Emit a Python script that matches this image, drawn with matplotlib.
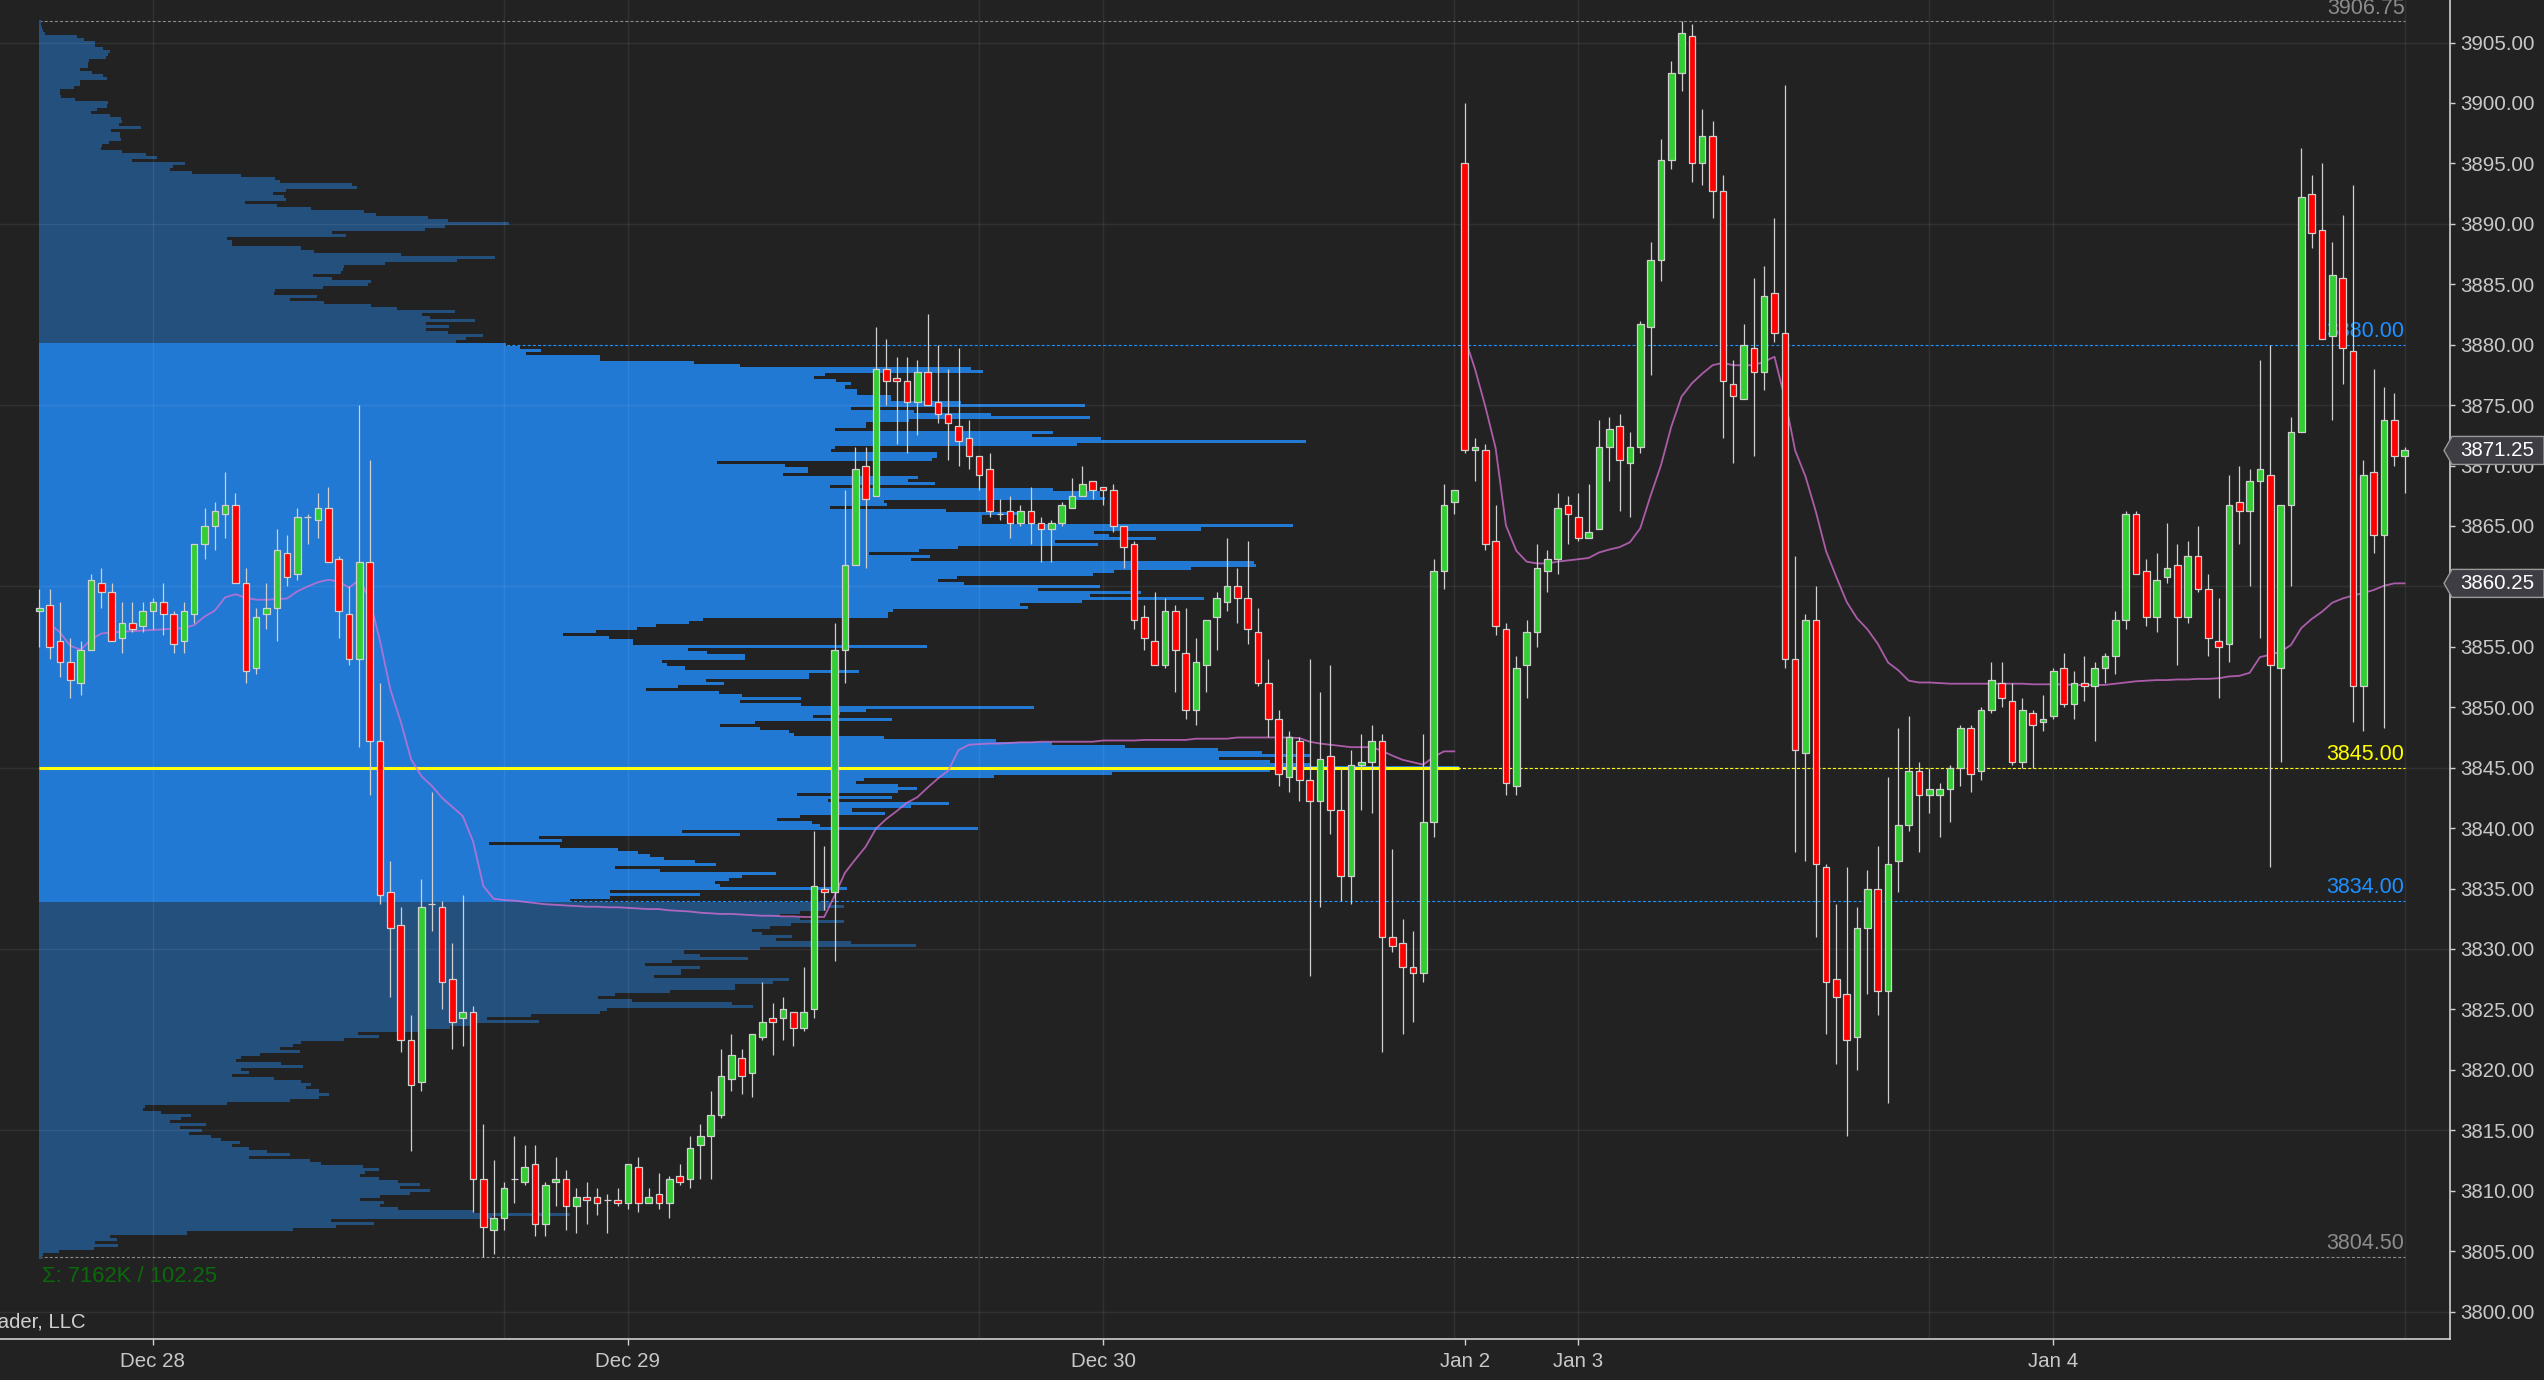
# ES 30-min chart with a volume profile, recreated with matplotlib
import numpy as np
import matplotlib
matplotlib.use("Agg")
import matplotlib.pyplot as plt
from matplotlib.patches import Polygon
from matplotlib.transforms import blended_transform_factory

plt.rcParams['font.family'] = ['Liberation Sans', 'DejaVu Sans']
plt.rcParams['lines.scale_dashes'] = False

# ---- candles (30 min bars, index 0..229) ----
opens = [3858.0, 3858.5, 3855.5, 3853.75, 3852.0, 3854.75, 3860.25, 3859.5, 3855.75, 3857.0,
         3856.75, 3858.0, 3858.75, 3857.75, 3855.5, 3857.75, 3863.5, 3865.0, 3866.0, 3866.75,
         3860.25, 3853.25, 3857.75, 3858.25, 3862.75, 3861.0, 3865.75, 3865.5, 3866.5, 3862.25,
         3857.75, 3854.0, 3862.0, 3847.25, 3834.75, 3832.0, 3822.5, 3819.0, 3833.75, 3833.5,
         3827.5, 3824.25, 3824.75, 3811.0, 3806.75, 3807.75, 3811.0, 3810.75, 3812.25, 3807.25,
         3810.75, 3811.0, 3808.75, 3809.5, 3809.5, 3809.25, 3809.25, 3809.0, 3812.0, 3809.0,
         3809.75, 3809.0, 3811.25, 3811.0, 3813.75, 3814.5, 3816.25, 3819.25, 3821.0, 3819.75,
         3822.75, 3824.25, 3824.25, 3824.75, 3823.5, 3825.0, 3835.0, 3834.75, 3854.75, 3861.75,
         3870.0, 3867.5, 3878.0, 3877.25, 3877.0, 3875.25, 3877.75, 3875.25, 3874.25, 3873.25,
         3872.25, 3870.75, 3869.75, 3866.0, 3866.25, 3865.25, 3866.25, 3865.25, 3864.75, 3865.25,
         3866.5, 3867.5, 3868.75, 3868.25, 3868.0, 3865.0, 3863.5, 3857.5, 3855.5, 3853.5,
         3858.0, 3854.5, 3849.75, 3853.5, 3857.5, 3858.75, 3860.0, 3859.0, 3856.25, 3852.0,
         3849.0, 3844.25, 3847.25, 3844.0, 3842.25, 3846.0, 3841.5, 3836.0, 3845.25, 3845.5,
         3847.25, 3831.0, 3830.5, 3828.5, 3828.0, 3840.5, 3861.25, 3867.0, 3895.0, 3871.25,
         3871.25, 3863.75, 3856.5, 3843.5, 3853.5, 3856.25, 3861.25, 3862.25, 3866.75, 3865.75,
         3864.0, 3864.75, 3871.5, 3873.25, 3870.25, 3871.5, 3881.5, 3887.0, 3895.25, 3902.5,
         3905.5, 3895.0, 3897.25, 3892.75, 3876.75, 3875.5, 3879.75, 3877.75, 3884.25, 3881.0,
         3854.0, 3846.25, 3857.25, 3836.75, 3827.5, 3826.25, 3822.75, 3831.75, 3835.0, 3826.5,
         3837.25, 3840.25, 3844.75, 3842.75, 3842.75, 3843.25, 3845.0, 3848.25, 3844.75, 3849.75,
         3852.0, 3850.5, 3845.5, 3849.5, 3848.75, 3849.25, 3853.25, 3850.25, 3852.0, 3851.75,
         3853.25, 3854.25, 3857.25, 3866.0, 3861.25, 3857.5, 3860.75, 3861.75, 3857.5, 3862.5,
         3859.75, 3855.5, 3855.25, 3867.0, 3866.25, 3868.75, 3869.25, 3853.25, 3866.75, 3872.75,
         3892.5, 3889.5, 3880.75, 3885.5, 3879.5, 3851.75, 3869.5, 3864.25, 3873.75, 3870.75]
highs = [3859.75, 3859.75, 3858.75, 3855.75, 3855.5, 3861.0, 3861.5, 3860.25, 3858.75, 3858.75,
         3858.75, 3859.0, 3860.25, 3858.0, 3858.75, 3863.5, 3866.5, 3867.0, 3869.5, 3867.75,
         3861.5, 3858.25, 3860.25, 3864.75, 3864.25, 3866.5, 3866.0, 3867.75, 3868.25, 3862.5,
         3860.0, 3875.0, 3870.5, 3852.0, 3837.25, 3833.5, 3824.5, 3835.75, 3843.0, 3834.0,
         3830.5, 3834.5, 3825.25, 3815.5, 3812.5, 3810.75, 3814.5, 3813.75, 3813.75, 3810.75,
         3812.75, 3811.75, 3810.25, 3810.75, 3810.25, 3809.75, 3810.25, 3812.25, 3812.75, 3810.25,
         3811.5, 3811.25, 3812.25, 3814.5, 3815.5, 3818.25, 3821.75, 3823.0, 3821.75, 3823.0,
         3827.25, 3825.5, 3826.0, 3824.75, 3828.5, 3839.75, 3838.5, 3857.0, 3868.0, 3871.5,
         3871.5, 3881.5, 3880.5, 3879.0, 3879.0, 3878.75, 3882.5, 3880.0, 3878.0, 3879.75,
         3873.75, 3870.75, 3871.0, 3867.25, 3867.5, 3866.75, 3868.25, 3865.75, 3865.5, 3867.0,
         3869.0, 3870.0, 3868.75, 3868.25, 3868.5, 3865.0, 3863.75, 3858.5, 3859.5, 3859.0,
         3858.5, 3858.25, 3855.75, 3857.25, 3859.5, 3864.0, 3861.5, 3863.75, 3858.25, 3854.0,
         3849.75, 3848.0, 3847.5, 3854.0, 3851.25, 3853.5, 3845.0, 3846.5, 3847.75, 3848.5,
         3847.75, 3838.25, 3832.5, 3831.5, 3847.75, 3862.25, 3868.5, 3868.0, 3900.0, 3872.25,
         3871.75, 3866.75, 3857.0, 3854.25, 3857.25, 3863.5, 3863.0, 3867.75, 3867.5, 3867.75,
         3868.5, 3873.75, 3874.0, 3874.25, 3872.75, 3882.0, 3888.5, 3897.0, 3903.5, 3906.75,
         3906.5, 3899.5, 3898.5, 3894.0, 3878.75, 3881.75, 3885.5, 3886.5, 3890.5, 3901.5,
         3862.5, 3857.75, 3860.0, 3837.0, 3833.75, 3836.75, 3833.5, 3836.5, 3838.5, 3844.25,
         3848.25, 3849.25, 3845.5, 3845.0, 3843.75, 3845.25, 3848.5, 3848.5, 3850.0, 3853.75,
         3853.75, 3852.0, 3850.75, 3849.75, 3851.0, 3853.25, 3854.5, 3853.0, 3854.25, 3853.75,
         3854.5, 3858.0, 3866.25, 3866.25, 3862.25, 3862.75, 3865.25, 3863.5, 3863.75, 3865.0,
         3861.0, 3859.0, 3869.25, 3870.0, 3869.75, 3878.75, 3880.0, 3866.75, 3874.0, 3896.25,
         3894.0, 3895.0, 3888.5, 3890.75, 3893.25, 3870.5, 3878.0, 3876.5, 3876.0, 3871.5]
lows = [3855.0, 3854.0, 3852.5, 3850.75, 3851.0, 3854.75, 3858.25, 3855.5, 3854.5, 3856.25,
        3856.25, 3856.5, 3856.0, 3854.5, 3854.5, 3857.0, 3862.25, 3863.0, 3864.0, 3860.25,
        3852.0, 3852.75, 3856.5, 3855.5, 3860.0, 3860.5, 3863.5, 3864.0, 3862.0, 3855.75,
        3853.5, 3846.75, 3842.75, 3833.75, 3826.0, 3821.5, 3813.25, 3818.25, 3831.5, 3825.0,
        3821.75, 3822.0, 3808.25, 3804.5, 3804.75, 3806.75, 3809.0, 3810.5, 3806.25, 3806.25,
        3808.75, 3806.75, 3806.5, 3807.25, 3808.0, 3806.5, 3808.75, 3808.5, 3808.25, 3809.0,
        3808.5, 3807.75, 3810.5, 3810.25, 3811.0, 3811.0, 3816.0, 3818.25, 3818.0, 3817.75,
        3822.5, 3821.25, 3822.5, 3822.0, 3823.25, 3824.25, 3833.25, 3829.0, 3852.0, 3861.75,
        3861.5, 3867.5, 3875.0, 3871.75, 3871.0, 3872.5, 3875.0, 3873.5, 3870.5, 3870.0,
        3869.75, 3868.0, 3865.75, 3865.5, 3864.0, 3865.0, 3863.5, 3862.0, 3862.0, 3865.0,
        3866.5, 3867.5, 3867.25, 3866.75, 3864.5, 3861.5, 3856.5, 3854.75, 3853.5, 3853.25,
        3851.25, 3849.0, 3848.5, 3851.25, 3854.75, 3858.0, 3857.0, 3855.25, 3851.75, 3847.5,
        3843.5, 3843.0, 3842.25, 3827.75, 3833.5, 3839.5, 3834.0, 3833.75, 3841.5, 3841.25,
        3821.5, 3829.75, 3823.0, 3824.0, 3827.25, 3839.25, 3859.75, 3866.0, 3871.0, 3868.75,
        3863.0, 3856.0, 3842.75, 3842.75, 3850.75, 3855.0, 3859.5, 3861.0, 3863.5, 3863.75,
        3864.0, 3864.75, 3868.75, 3866.25, 3865.75, 3871.0, 3877.5, 3885.25, 3894.5, 3901.0,
        3893.5, 3893.25, 3890.5, 3872.25, 3870.25, 3875.5, 3870.75, 3876.25, 3880.25, 3853.25,
        3838.0, 3837.25, 3831.0, 3823.0, 3820.5, 3814.5, 3820.0, 3826.25, 3824.5, 3817.25,
        3834.75, 3839.75, 3838.0, 3841.25, 3839.25, 3840.5, 3843.5, 3843.0, 3844.0, 3849.5,
        3850.0, 3845.25, 3845.0, 3845.0, 3848.0, 3849.0, 3850.0, 3849.0, 3850.5, 3847.25,
        3852.0, 3852.75, 3856.5, 3861.0, 3856.75, 3856.25, 3860.25, 3853.5, 3857.0, 3859.5,
        3854.25, 3850.75, 3853.75, 3863.5, 3860.0, 3855.75, 3836.75, 3845.5, 3860.0, 3872.75,
        3888.0, 3880.5, 3873.75, 3876.75, 3848.75, 3848.0, 3862.75, 3848.25, 3870.0, 3867.75]
closes = [3858.25, 3855.0, 3853.75, 3852.25, 3854.75, 3860.5, 3859.5, 3855.5, 3857.0, 3856.5,
          3858.0, 3858.75, 3857.75, 3855.25, 3858.0, 3863.5, 3865.0, 3866.25, 3866.75, 3860.25,
          3853.0, 3857.5, 3858.25, 3863.0, 3860.75, 3865.75, 3865.75, 3866.5, 3862.0, 3858.0,
          3854.0, 3862.0, 3847.25, 3834.5, 3831.75, 3822.5, 3818.75, 3833.5, 3833.75, 3827.25,
          3824.0, 3824.75, 3811.0, 3807.0, 3807.75, 3810.25, 3811.0, 3812.0, 3807.25, 3810.5,
          3811.0, 3808.75, 3809.5, 3809.25, 3809.0, 3809.25, 3809.0, 3812.25, 3809.0, 3809.5,
          3809.0, 3811.0, 3810.75, 3813.5, 3814.5, 3816.25, 3819.5, 3821.25, 3819.5, 3823.0,
          3824.0, 3824.0, 3825.0, 3823.5, 3824.75, 3835.25, 3834.75, 3854.75, 3861.75, 3869.75,
          3867.25, 3878.0, 3877.0, 3877.0, 3875.25, 3877.75, 3875.0, 3874.25, 3873.5, 3872.0,
          3870.75, 3869.25, 3866.25, 3866.0, 3865.25, 3866.25, 3865.25, 3864.75, 3865.25, 3866.75,
          3867.5, 3868.5, 3868.0, 3868.0, 3865.0, 3863.25, 3857.25, 3855.75, 3853.5, 3858.0,
          3854.75, 3849.75, 3853.75, 3857.25, 3859.0, 3860.0, 3859.0, 3856.5, 3852.0, 3849.0,
          3844.5, 3847.5, 3844.0, 3842.25, 3845.75, 3841.5, 3836.0, 3845.25, 3845.5, 3847.25,
          3831.0, 3830.25, 3828.5, 3828.0, 3840.5, 3861.25, 3866.75, 3868.0, 3871.25, 3871.5,
          3863.5, 3856.75, 3843.75, 3853.25, 3856.25, 3861.5, 3862.25, 3866.5, 3866.0, 3864.0,
          3864.5, 3871.5, 3873.0, 3870.5, 3871.5, 3881.75, 3887.0, 3895.25, 3902.5, 3905.75,
          3895.0, 3897.25, 3892.75, 3877.0, 3875.75, 3880.0, 3877.75, 3884.0, 3881.0, 3854.0,
          3846.5, 3857.25, 3837.0, 3827.25, 3826.0, 3822.5, 3831.75, 3835.0, 3826.5, 3837.0,
          3840.25, 3844.75, 3842.75, 3843.25, 3843.25, 3845.0, 3848.25, 3844.5, 3849.75, 3852.25,
          3850.75, 3845.5, 3849.75, 3848.5, 3849.0, 3853.0, 3850.25, 3852.0, 3851.75, 3853.25,
          3854.25, 3857.25, 3866.0, 3861.0, 3857.5, 3860.5, 3861.5, 3857.5, 3862.5, 3859.75,
          3855.75, 3855.0, 3866.75, 3866.25, 3868.75, 3869.75, 3853.5, 3866.75, 3872.75, 3892.25,
          3889.25, 3880.5, 3885.75, 3879.75, 3851.75, 3869.25, 3864.25, 3873.75, 3870.75, 3871.25]

# ---- session VWAP (two segments) ----
vwap_a_start = 1
vwap_a = [3856.9, 3856.2, 3855.1, 3854.75, 3855.6, 3856.1, 3856.2, 3856.25, 3856.3, 3856.35,
          3856.4, 3856.45, 3856.5, 3856.55, 3856.8, 3857.5, 3858.0, 3859.1, 3859.35, 3859.05,
          3858.9, 3858.9, 3858.95, 3859.0, 3859.6, 3860.0, 3860.35, 3860.55, 3860.4, 3859.9,
          3860.55, 3858.9, 3855.45, 3851.45, 3848.8, 3845.7, 3844.3, 3843.5, 3842.5, 3841.75,
          3841.0, 3838.9, 3835.2, 3834.15, 3834.05, 3834.0, 3833.9, 3833.8, 3833.7, 3833.65,
          3833.6, 3833.55, 3833.5, 3833.5, 3833.45, 3833.45, 3833.4, 3833.35, 3833.3, 3833.3,
          3833.2, 3833.15, 3833.1, 3833.0, 3832.95, 3832.9, 3832.9, 3832.85, 3832.8, 3832.75,
          3832.75, 3832.7, 3832.7, 3832.65, 3832.65, 3832.65, 3834.4, 3836.3, 3837.4, 3838.45,
          3839.95, 3840.75, 3841.4, 3842.1, 3842.55, 3843.35, 3844.1, 3844.75, 3846.45, 3846.9,
          3846.95, 3847.0, 3847.0, 3847.05, 3847.1, 3847.1, 3847.15, 3847.15, 3847.15, 3847.15,
          3847.15, 3847.15, 3847.25, 3847.25, 3847.25, 3847.25, 3847.3, 3847.3, 3847.3, 3847.3,
          3847.3, 3847.4, 3847.4, 3847.4, 3847.4, 3847.5, 3847.5, 3847.5, 3847.5, 3847.5,
          3847.5, 3847.45, 3847.15, 3847.0, 3846.9, 3846.8, 3846.7, 3846.7, 3846.7, 3846.4,
          3846.0, 3845.65, 3845.45, 3845.25, 3845.9, 3846.35, 3846.35]
vwap_b_start = 138
vwap_b = [3880.6, 3878.0, 3874.9, 3871.45, 3865.05, 3862.95, 3862.05, 3861.9, 3861.9, 3862.05,
          3862.15, 3862.25, 3862.35, 3862.8, 3863.05, 3863.25, 3863.65, 3864.8, 3867.5, 3870.0,
          3873.2, 3875.7, 3876.8, 3877.6, 3878.3, 3878.5, 3878.3, 3878.3, 3878.3, 3878.6,
          3879.0, 3875.55, 3871.25, 3869.1, 3866.2, 3862.9, 3860.75, 3858.7, 3857.35, 3856.45,
          3855.25, 3853.7, 3853.05, 3852.2, 3852.05, 3852.05, 3852.0, 3851.95, 3851.95, 3851.95,
          3851.95, 3851.95, 3851.95, 3851.95, 3851.95, 3851.9, 3851.9, 3851.9, 3851.9, 3851.85,
          3851.85, 3851.85, 3851.85, 3851.95, 3852.05, 3852.15, 3852.2, 3852.25, 3852.25, 3852.3,
          3852.3, 3852.35, 3852.35, 3852.4, 3852.55, 3852.6, 3852.85, 3854.15, 3854.35, 3854.6,
          3855.15, 3856.55, 3857.3, 3857.9, 3858.65, 3859.0, 3859.25, 3859.45, 3859.7, 3860.05,
          3860.25, 3860.25]

# ---- volume profile, one value per tick (relative volume) ----
# rows from 3906.75 down to 3880.25 (above value area)
prof_top = [2, 2, 3, 4, 6, 38, 45, 56, 56, 64, 71, 69, 67, 50, 49, 49, 41, 53, 64, 68,
            41, 41, 35, 21, 21, 22, 36, 69, 68, 58, 52, 71, 82, 83, 80, 102, 72, 81, 81, 82,
            70, 63, 62, 83, 107, 118, 93, 146, 134, 131, 153, 202, 236, 241, 313, 318, 247, 234, 245, 247,
            206, 238, 272, 325, 337, 389, 409, 470, 406, 386, 293, 307, 188, 193, 193, 262, 275, 362, 456, 418,
            346, 305, 304, 302, 274, 293, 332, 329, 284, 236, 235, 278, 251, 285, 332, 358, 416, 383, 391, 436,
            387, 410, 387, 409, 444, 427, 417]
# rows from 3880.00 down to 3834.00 (value area)
prof_va = [467, 481, 502, 487, 561, 561, 655, 701, 932, 944,
           786, 775, 797, 812, 806, 818, 818, 852, 852, 922,
           1046, 812, 875, 952, 1051, 870, 827, 827, 796, 1014,
           993, 1062, 1267, 1038, 796, 792, 898, 898, 893, 678,
           746, 769, 769, 744, 879, 869, 896, 791, 1014, 1061,
           1061, 1066, 845, 848, 791, 907, 986, 943, 943, 943,
           1254, 1162, 1055, 1070, 1117, 1016, 1059, 919, 880, 830,
           891, 872, 1215, 1217, 1152, 1075, 1054, 918, 899, 925,
           1061, 999, 1102, 1051, 1165, 1043, 981, 989, 854, 849,
           849, 664, 650, 617, 598, 557, 524, 570, 594, 594,
           888, 649, 668, 706, 706, 623, 628, 646, 820, 770,
           770, 667, 685, 639, 607, 680, 703, 762, 701, 762,
           995, 827, 801, 774, 853, 716, 681, 721, 750, 755,
           845, 957, 1013, 1086, 1179, 1223, 1271, 1180, 1231, 1271,
           1420, 1231, 1073, 955, 825, 817, 859, 878, 859, 758,
           853, 789, 910, 872, 813, 846, 761, 738, 773, 781,
           939, 643, 701, 500, 523, 450, 521, 579, 599, 611,
           625, 656, 677, 576, 621, 737, 703, 690, 676, 681,
           808, 571, 661, 571, 531]
# rows from 3833.75 down to 3804.50 (below value area)
prof_bot = [791, 805, 787, 761, 741, 761, 805, 752, 731, 713,
            723, 753, 737, 812, 877, 721, 645, 661, 709, 633,
            606, 661, 642, 642, 615, 750, 734, 696, 696, 631,
            576, 559, 593, 693, 714, 568, 561, 492, 448, 500,
            431, 411, 387, 319, 340, 305, 262, 254, 241, 261,
            221, 202, 197, 242, 264, 202, 210, 193, 235, 262,
            272, 267, 280, 290, 280, 251, 188, 106, 104, 122,
            152, 142, 131, 167, 141, 163, 150, 172, 182, 201,
            193, 210, 228, 251, 210, 271, 282, 324, 340, 326,
            321, 340, 359, 381, 361, 391, 371, 341, 321, 345,
            341, 359, 435, 531, 453, 292, 335, 297, 254, 148,
            71, 78, 56, 79, 55, 20, 4, 3]

profile_high = 3906.75
vah, poc, val = 3880.00, 3845.00, 3834.00
profile_low = 3804.50
profile_label = "\u03a3: 7162K / 102.25"

date_ticks = [11, 57, 103, 138, 149, 195]
date_labels = ["Dec 28", "Dec 29", "Dec 30", "Jan 2", "Jan 3", "Jan 4"]
vgrid_bars = [11, 45, 57, 91, 103, 137, 149, 183, 195, 229]
hgrid_prices = [3800, 3815, 3830, 3845, 3860, 3875, 3890, 3905]
price_ticks = list(range(3800, 3910, 5))
last_price = 3871.25
vwap_last = 3860.25

# ---- colours ----
BG = '#222222'
VA_BLUE = '#2279d3'
OUT_BLUE = '#24507e'
WICK = '#d0d0d0'
UP = '#32cd32'
DN = '#ff0000'
TXT = '#c8c8c8'

fig = plt.figure(figsize=(25.44, 13.80), dpi=100, facecolor=BG)
ax = fig.add_axes([0, 1 - 1339 / 1380, 2450 / 2544, 1339 / 1380])
ax.set_facecolor(BG)
ax.set_xlim(-3.8, 233.4)
ax.set_ylim(3797.73, 3908.52)

# volume profile polygons
tick = 0.25
top_prices = profile_high - tick * np.arange(len(prof_top))
va_prices = vah - tick * np.arange(len(prof_va))
bot_prices = (val - tick) - tick * np.arange(len(prof_bot))
vmax = max(prof_va)
poc_len = 137.5          # bar units covered by the longest row
scale = poc_len / vmax


def profile_patch(prices, vols, color):
    pts = [(0, prices[0] + tick / 2)]
    for p, v in zip(prices, vols):
        pts.append((v * scale, p + tick / 2))
        pts.append((v * scale, p - tick / 2))
    pts.append((0, prices[-1] - tick / 2))
    return Polygon(pts, closed=True, facecolor=color, edgecolor='none', zorder=1.5)


ax.add_patch(profile_patch(top_prices, prof_top, OUT_BLUE))
ax.add_patch(profile_patch(va_prices, prof_va, VA_BLUE))
ax.add_patch(profile_patch(bot_prices, prof_bot, OUT_BLUE))

# level lines
dash = (0, (2.2, 1.5))
x_end = 229
ax.hlines([profile_high, profile_low], 0, x_end, colors='#8a8a8a', lw=0.8, linestyles=dash, zorder=1)
ax.hlines([vah, val], 0, x_end, colors='#1e90ff', lw=0.8, linestyles=dash, zorder=1)
ax.hlines(poc, 0, x_end, colors='#ffff00', lw=0.8, linestyles=dash, zorder=1)
ax.hlines(poc, 0, poc_len, colors='#ffff00', lw=2.2, zorder=2)

for lvl, col in [(profile_high, '#8c8c8c'), (vah, '#1e90ff'), (poc, '#ffff00'),
                 (val, '#1e90ff'), (profile_low, '#8c8c8c')]:
    ax.annotate(f"{lvl:.2f}", (x_end, lvl), xytext=(0, 2), textcoords='offset points',
                ha='right', va='bottom', color=col, fontsize=15.5, zorder=4)

# grid
for xb in vgrid_bars:
    ax.axvline(xb, color='white', alpha=0.07, lw=1, zorder=2.2)
for yp in hgrid_prices:
    ax.axhline(yp, color='white', alpha=0.07, lw=1, zorder=2.2)

# vwap
ax.plot(range(vwap_a_start, vwap_a_start + len(vwap_a)), vwap_a, color='#da70d6', lw=1.3,
        alpha=0.75, zorder=3)
ax.plot(range(vwap_b_start, vwap_b_start + len(vwap_b)), vwap_b, color='#da70d6', lw=1.3,
        alpha=0.75, zorder=3)

# candles
xs = np.arange(len(opens))
o = np.array(opens)
c = np.array(closes)
ax.vlines(xs, lows, highs, colors=WICK, lw=0.9, zorder=5)
body_col = [UP if cc >= oo else DN for oo, cc in zip(o, c)]
ax.bar(xs, np.abs(c - o), bottom=np.minimum(o, c), width=0.64, color=body_col,
       edgecolor=WICK, linewidth=0.9, zorder=6)

# texts at the bottom left
ax.text(42 / 2450, 3802.9, profile_label, transform=blended_transform_factory(ax.transAxes, ax.transData),
        ha='left', va='center', color='#0a6a0a', fontsize=15.8, zorder=4)
fig.text(86 / 2544, 1 - 1322 / 1380, "\u00a9 2023 NinjaTrader, LLC", ha='right', va='center',
         color='#d0d0d0', fontsize=14.6)

# axes styling
for side in ['left', 'top']:
    ax.spines[side].set_visible(False)
for side in ['right', 'bottom']:
    ax.spines[side].set_color('#d0d0d0')
    ax.spines[side].set_linewidth(1.2)
ax.yaxis.tick_right()
ax.set_yticks(price_ticks)
ax.set_yticklabels([f"{p:.2f}" for p in price_ticks])
ax.tick_params(axis='y', colors='#d0d0d0', labelcolor=TXT, labelsize=14.8, length=3.6, width=1, pad=3.6)
ax.set_xticks(date_ticks)
ax.set_xticklabels(date_labels)
ax.tick_params(axis='x', colors='#d0d0d0', labelcolor=TXT, labelsize=14.8, length=4.3, width=1, pad=5)

# price tags on the price axis
tr = blended_transform_factory(fig.transFigure, ax.transData)
half = 14 / 12.086
for p in [last_price, vwap_last]:
    tag = Polygon([(2444 / 2544, p), (2452 / 2544, p + half), (1.0, p + half),
                   (1.0, p - half), (2452 / 2544, p - half)], closed=True, transform=tr,
                  facecolor='#3d3d43', edgecolor='#9a9a9a', lw=1, clip_on=False, zorder=10)
    ax.add_patch(tag)
    ax.text(2460 / 2544, p, f"{p:.2f}", transform=tr, ha='left', va='center', color='white',
            fontsize=14.8, zorder=11, clip_on=False)

fig.savefig("out.png", dpi=100, facecolor=BG)
